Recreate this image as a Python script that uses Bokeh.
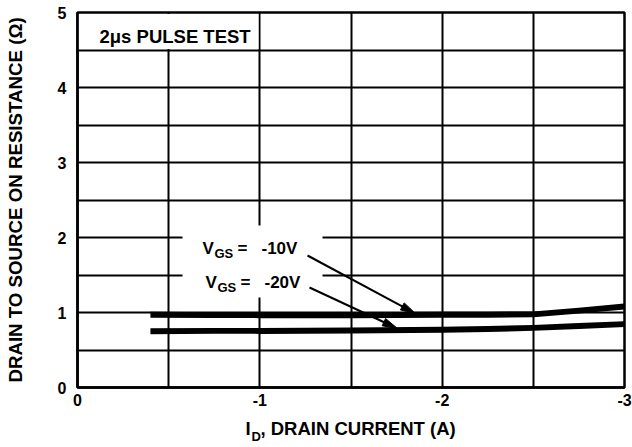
from bokeh.plotting import figure
from bokeh.models import Range1d, FixedTicker, Label, BoxAnnotation, LinearAxis
from bokeh.embed import file_html
from bokeh.resources import INLINE

# ---------------- data ----------------
drain_current = [-0.4, -0.75, -1.0, -1.5, -2.0, -2.25, -2.5, -2.75, -3.0]
rds_vgs_10 = [0.97, 0.965, 0.965, 0.965, 0.97, 0.97, 0.975, 1.025, 1.08]
rds_vgs_20 = [0.75, 0.755, 0.755, 0.76, 0.77, 0.78, 0.795, 0.82, 0.845]
series_values = ["-10V", "-20V"]

x_ticks = [0, -1, -2, -3]
x_tick_labels = ["0", "-1", "-2", "-3"]
y_ticks = [0, 1, 2, 3, 4, 5]
y_tick_labels = ["0", "1", "2", "3", "4", "5"]
x_grid_ticks = [-0.5, -1.0, -1.5, -2.0, -2.5]
y_grid_ticks = [0.5, 1.0, 1.5, 2.0, 2.5, 3.0, 3.5, 4.0, 4.5]
x_title_parts = ["I", "D", ", DRAIN CURRENT (A)"]
y_title = "DRAIN TO SOURCE ON RESISTANCE (\u03a9)"

# ---------------- geometry ----------------
FONT = "Liberation Sans"
W, H = 632, 447
# plotting frame edges in page pixels (figure sits at the page origin)
FL, FT, FR, FB = 77, 12, 624, 387
X0, X1, Y0, Y1 = 0, -3, 0, 5


def dx(px):
    return X0 + (px - FL) / (FR - FL) * (X1 - X0)


def dy(py):
    return Y0 + (FB - py) / (FB - FT) * (Y1 - Y0)


p = figure(width=W, height=H,
           x_range=Range1d(X0, X1), y_range=Range1d(Y0, Y1),
           output_backend="svg", toolbar_location=None,
           min_border_left=FL, min_border_top=FT,
           min_border_right=W - FR, min_border_bottom=H - FB)
p.background_fill_color = "white"
p.border_fill_color = "white"
p.outline_line_color = "black"
p.outline_line_width = 2.5
p.outline_line_alpha = 1.0

# axes
p.xaxis.ticker = FixedTicker(ticks=x_ticks)
p.xaxis.major_label_overrides = dict(zip(x_ticks, x_tick_labels))
p.yaxis.ticker = FixedTicker(ticks=y_ticks)
p.yaxis.major_label_overrides = dict(zip(y_ticks, y_tick_labels))
for ax in (p.xaxis[0], p.yaxis[0]):
    ax.axis_line_color = "black"
    ax.axis_line_width = 2.5
    ax.major_tick_in = 0
    ax.major_tick_out = 0
    ax.minor_tick_in = 0
    ax.minor_tick_out = 0
    ax.major_label_text_font = FONT
    ax.major_label_text_font_style = "bold"
    ax.major_label_text_font_size = "16px"
    ax.major_label_text_color = "black"
p.xaxis.major_label_standoff = 6
p.yaxis.major_label_standoff = 11
p.yaxis.axis_label = y_title
p.yaxis.axis_label_text_font = FONT
p.yaxis.axis_label_text_font_style = "bold"
p.yaxis.axis_label_text_font_size = "18.7px"
p.yaxis.axis_label_text_color = "black"
p.yaxis.axis_label_standoff = 29


# x-axis title "I_D, DRAIN CURRENT (A)": the pieces are tick labels of bare
# extra axes stacked below the main one (negative standoff overlaps the rows)
def text_axis(centers_px, texts, size, standoff):
    ticks = [round(dx(c), 3) for c in centers_px]
    ax = LinearAxis(ticker=FixedTicker(ticks=ticks),
                    major_label_overrides=dict(zip(ticks, texts)),
                    axis_line_color=None, major_tick_in=0, major_tick_out=0,
                    minor_tick_in=0, minor_tick_out=0,
                    major_label_standoff=standoff,
                    major_label_text_font=FONT, major_label_text_font_style="bold",
                    major_label_text_font_size=size, major_label_text_color="black")
    p.add_layout(ax, "below")


text_axis([247.6, 357.6], [x_title_parts[0], x_title_parts[2]], "18.5px", 9)
text_axis([255.7], [x_title_parts[1]], "13px", -13)

# grid
p.xgrid.ticker = FixedTicker(ticks=x_grid_ticks)
p.ygrid.ticker = FixedTicker(ticks=y_grid_ticks)
for g in (p.xgrid[0], p.ygrid[0]):
    g.grid_line_color = "black"
    g.grid_line_width = 2
    g.grid_line_alpha = 1.0

# white label backgrounds hiding the grid
p.add_layout(BoxAnnotation(left=dx(78), right=dx(258), top=dy(13.5), bottom=dy(48.5),
                           fill_color="white", fill_alpha=1.0, line_color=None,
                           level="underlay"))
p.add_layout(BoxAnnotation(left=dx(182), right=dx(322), top=dy(225), bottom=dy(297),
                           fill_color="white", fill_alpha=1.0, line_color=None,
                           level="underlay"))

# curves
p.line(drain_current, rds_vgs_10, line_color="black", line_width=6, line_join="round")
p.line(drain_current, rds_vgs_20, line_color="black", line_width=6, line_join="round")


# arrows (start and tip in page pixels)
def arrow(sx, sy, tx, ty, head_len=15.0, half_w=4.0):
    vx, vy = tx - sx, ty - sy
    n = (vx * vx + vy * vy) ** 0.5
    ux, uy = vx / n, vy / n
    bx, by = tx - head_len * ux, ty - head_len * uy
    nx, ny = -uy, ux
    p.line([dx(sx), dx(bx + 2 * ux)], [dy(sy), dy(by + 2 * uy)], line_color="black", line_width=2)
    p.patch([dx(tx), dx(bx + half_w * nx), dx(bx - half_w * nx)],
            [dy(ty), dy(by + half_w * ny), dy(by - half_w * ny)],
            fill_color="black", line_color="black", line_width=1)


arrow(307, 255, 415, 313)
arrow(309, 287, 397, 328)


def lab(px, py, text, size="17px"):
    p.add_layout(Label(x=dx(px), y=dy(py), text=text, text_font=FONT,
                       text_font_style="bold", text_font_size=size,
                       text_color="black", text_align="left",
                       text_baseline="alphabetic"))


# annotation texts
lab(99, 36, "2\u03bcs PULSE TEST", size="18.5px")
lab(202, 248, "V")
lab(214, 253, "GS", size="13px")
lab(237, 248, "=")
lab(261, 248, series_values[0])
lab(205, 282, "V")
lab(217, 287, "GS", size="13px")
lab(240, 282, "=")
lab(264, 282, series_values[1])

open("out.html", "w").write(file_html(p, INLINE))
